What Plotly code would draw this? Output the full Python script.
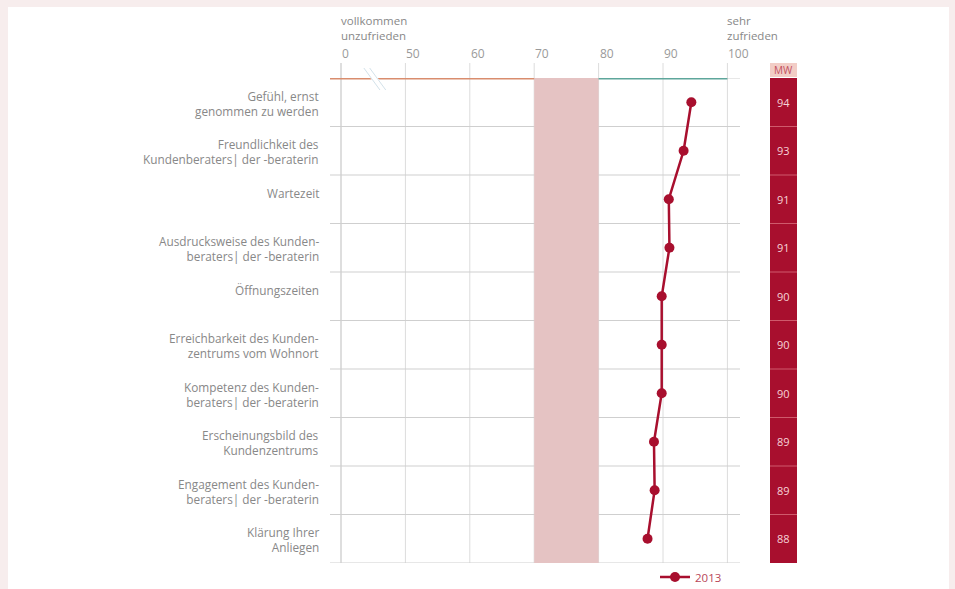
import plotly.graph_objects as go

# --- data -------------------------------------------------------------
categories = [
    "Gefühl, ernst<br>genommen zu werden",
    "Freundlichkeit des<br>Kundenberaters| der -beraterin",
    "Wartezeit",
    "Ausdrucksweise des Kunden-<br>beraters| der -beraterin",
    "Öffnungszeiten",
    "Erreichbarkeit des Kunden-<br>zentrums vom Wohnort",
    "Kompetenz des Kunden-<br>beraters| der -beraterin",
    "Erscheinungsbild des<br>Kundenzentrums",
    "Engagement des Kunden-<br>beraters| der -beraterin",
    "Klärung Ihrer<br>Anliegen",
]
scores_2013 = [94.4, 93.2, 90.9, 91.0, 89.8, 89.8, 89.8, 88.6, 88.7, 87.6]
mw_labels = ["94", "93", "91", "91", "90", "90", "90", "89", "89", "88"]
series_name = "2013"

# broken axis: the "0" tick sits one step left of 50
tick_pos = [40, 50, 60, 70, 80, 90, 100]
tick_text = ["0", "50", "60", "70", "80", "90", "100"]
band_range = (70, 80)

# --- geometry / styling ----------------------------------------------
W, H = 955, 589
L, R, T, B = 330, 740, 78, 563          # plot area in pixels
X_MIN = 40 - (341 - L) / 6.44
X_MAX = 40 + (R - 341) / 6.44

RED = "#a80f2e"
GRID = "#dcdcdc"
TEXT = "#888888"
FONT = "Open Sans"


def px_x(p):
    return (p - L) / (R - L)


def px_y(p):
    return (B - p) / (B - T)


n = len(categories)
shapes = []

# white card on pink page
shapes.append(dict(type="rect", xref="paper", yref="paper",
                   x0=px_x(8), x1=px_x(949), y0=px_y(592), y1=px_y(7),
                   fillcolor="white", line_width=0, layer="below"))

# target band
shapes.append(dict(type="rect", xref="x", yref="y",
                   x0=band_range[0], x1=band_range[1], y0=-0.5, y1=n - 0.5,
                   fillcolor="#e5c3c3", line_width=0, layer="below"))

# vertical grid lines reaching up to the tick labels
for i, t in enumerate(tick_pos):
    shapes.append(dict(type="line", xref="x", yref="paper",
                       x0=t, x1=t, y0=0, y1=px_y(63),
                       line=dict(color="#bdbdbd" if i == 0 else GRID, width=1),
                       layer="below"))

# row separators
for k in range(n + 1):
    shapes.append(dict(type="line", xref="paper", yref="y",
                       x0=0, x1=1, y0=k - 0.5, y1=k - 0.5,
                       line=dict(color="#cfcfcf", width=1), layer="below"))

# coloured scale bar along the top
shapes.append(dict(type="line", xref="x", yref="y", x0=X_MIN, x1=band_range[0],
                   y0=-0.5, y1=-0.5, line=dict(color="#d98d6e", width=3)))
shapes.append(dict(type="line", xref="x", yref="y", x0=band_range[1], x1=100,
                   y0=-0.5, y1=-0.5, line=dict(color="#5ea69b", width=3)))

# axis break mark between 0 and 50
bx0, bx1 = 44.0, 46.5
by0, by1 = px_y(68), px_y(90)
shapes.append(dict(type="line", xref="x", yref="paper", x0=bx0, x1=bx1,
                   y0=by0, y1=by1, line=dict(color="white", width=6)))
for off in (-0.45, 0.45):
    shapes.append(dict(type="line", xref="x", yref="paper",
                       x0=bx0 + off, x1=bx1 + off, y0=by0, y1=by1,
                       line=dict(color="#d3e2ea", width=1)))

# MW column
cx0, cx1 = px_x(770), px_x(797)
shapes.append(dict(type="rect", xref="paper", yref="paper",
                   x0=cx0, x1=cx1, y0=px_y(77), y1=px_y(63),
                   fillcolor="#f2cdc6", line_width=0))
shapes.append(dict(type="rect", xref="paper", yref="y",
                   x0=cx0, x1=cx1, y0=-0.5, y1=n - 0.5,
                   fillcolor=RED, line_width=0))
for k in range(1, n):
    shapes.append(dict(type="line", xref="paper", yref="y",
                       x0=cx0, x1=cx1, y0=k - 0.5, y1=k - 0.5,
                       line=dict(color="#cf5a6c", width=1)))

annotations = []

# category labels
for i, c in enumerate(categories):
    annotations.append(dict(text=c, xref="paper", yref="y",
                            x=px_x(321), y=i - 0.5 + 0.16,
                            xanchor="right", yanchor="top", align="right",
                            showarrow=False,
                            font=dict(family=FONT, size=11.8, color=TEXT)))

# tick labels, left-aligned at their grid lines
for t, s in zip(tick_pos, tick_text):
    annotations.append(dict(text=s, xref="x", yref="paper",
                            x=t, y=px_y(54), xanchor="left", yanchor="middle",
                            xshift=-1, showarrow=False,
                            font=dict(family=FONT, size=12, color="#9a9a9a")))

# scale end captions
annotations.append(dict(text="vollkommen<br>unzufrieden", xref="x", yref="paper",
                        x=40, y=px_y(11), xanchor="left", yanchor="top",
                        align="left", xshift=-2, showarrow=False,
                        font=dict(family=FONT, size=11.5, color=TEXT)))
annotations.append(dict(text="sehr<br>zufrieden", xref="x", yref="paper",
                        x=100, y=px_y(11), xanchor="left", yanchor="top",
                        align="left", xshift=-2, showarrow=False,
                        font=dict(family=FONT, size=11.5, color=TEXT)))

# MW header and values
annotations.append(dict(text="MW", xref="paper", yref="paper",
                        x=(cx0 + cx1) / 2, y=px_y(70), xanchor="center",
                        yanchor="middle", showarrow=False,
                        font=dict(family=FONT, size=10, color="#c2505f")))
for i, m in enumerate(mw_labels):
    annotations.append(dict(text=m, xref="paper", yref="y",
                            x=(cx0 + cx1) / 2, y=i, xanchor="center",
                            yanchor="middle", showarrow=False,
                            font=dict(family=FONT, size=11, color="#f6d3d8")))

fig = go.Figure()
fig.add_trace(go.Scatter(
    x=scores_2013, y=list(range(n)), name=series_name,
    mode="lines+markers",
    line=dict(color=RED, width=2.5),
    marker=dict(color=RED, size=10),
    cliponaxis=False,
))

fig.update_layout(
    width=W, height=H,
    margin=dict(l=L, r=W - R, t=T, b=H - B, autoexpand=False),
    paper_bgcolor="#f7eded",
    plot_bgcolor="rgba(0,0,0,0)",
    xaxis=dict(range=[X_MIN, X_MAX], showgrid=False, zeroline=False,
               showticklabels=False, ticks="", showline=False, fixedrange=True),
    yaxis=dict(range=[n - 0.5, -0.5], showgrid=False, zeroline=False,
               showticklabels=False, ticks="", showline=False, fixedrange=True),
    shapes=shapes,
    annotations=annotations,
    showlegend=True,
    legend=dict(orientation="h", x=px_x(655), y=px_y(577),
                xanchor="left", yanchor="middle",
                bgcolor="rgba(0,0,0,0)",
                font=dict(family=FONT, size=11.5, color="#b8475a")),
    font=dict(family=FONT),
)

fig.write_html("out.html")
